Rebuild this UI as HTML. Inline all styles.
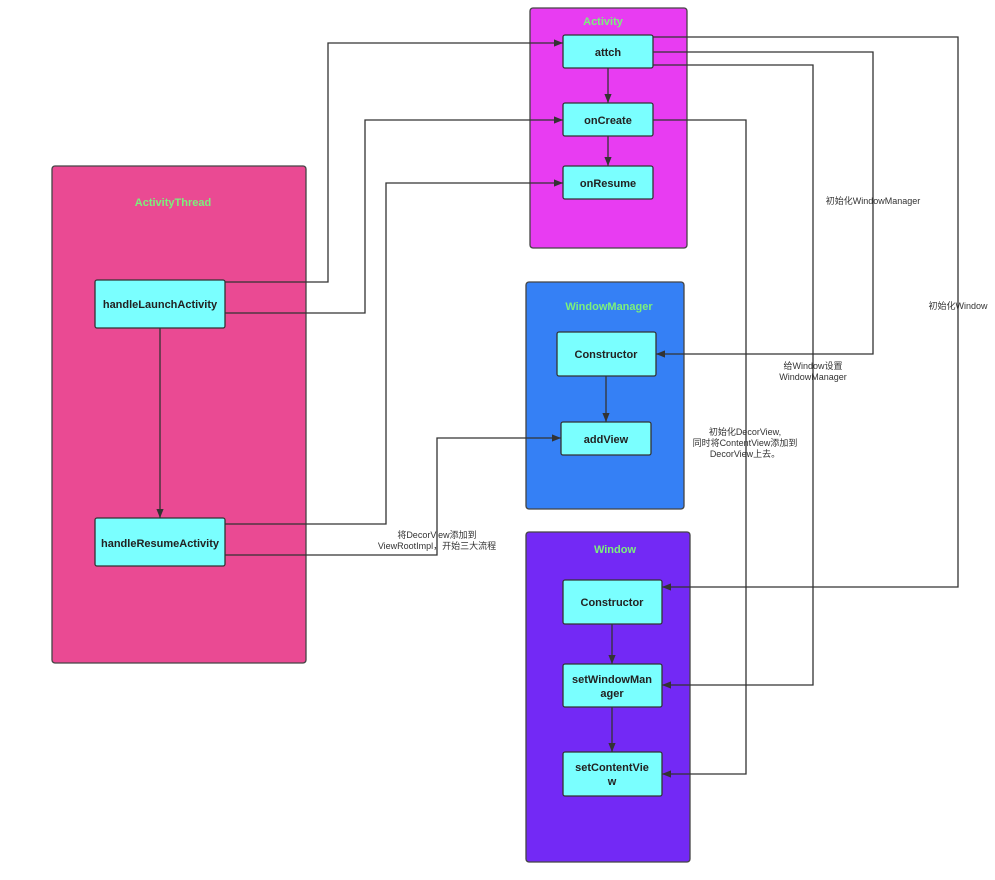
<!DOCTYPE html>
<html><head><meta charset="utf-8"><style>
html,body{margin:0;padding:0;background:#fff;}
svg{display:block;}
.n{fill:#7AFFFF;stroke:#333;stroke-width:1.3;}
.t{font-family:"Liberation Sans","Noto Sans CJK SC",sans-serif;font-weight:bold;font-size:11px;fill:#222;text-anchor:middle;}
.h{font-family:"Liberation Sans","Noto Sans CJK SC",sans-serif;font-weight:bold;font-size:11px;fill:#7CF07C;text-anchor:middle;}
.l{font-family:"Liberation Sans","Noto Sans CJK SC",sans-serif;font-size:9px;fill:#333;text-anchor:middle;}
.c{fill:none;stroke:#333;stroke-width:1.3;}
</style></head><body>
<svg width="995" height="880" viewBox="0 0 995 880" xmlns="http://www.w3.org/2000/svg">
<defs><marker id="a" viewBox="0 0 10 10" refX="10" refY="5" markerWidth="9" markerHeight="9" markerUnits="userSpaceOnUse" orient="auto"><path d="M0,1 L10,5 L0,9 z" fill="#333"/></marker></defs>
<!-- containers -->
<rect x="52" y="166" width="254" height="497" rx="3" fill="#EA4A93" stroke="#444" stroke-width="1.3"/>
<text class="h" x="173" y="206">ActivityThread</text>
<rect x="530" y="8" width="157" height="240" rx="3" fill="#E83CF2" stroke="#444" stroke-width="1.3"/>
<text class="h" x="603" y="25">Activity</text>
<rect x="526" y="282" width="158" height="227" rx="3" fill="#3580F5" stroke="#444" stroke-width="1.3"/>
<text class="h" x="609" y="310">WindowManager</text>
<rect x="526" y="532" width="164" height="330" rx="3" fill="#7329F5" stroke="#444" stroke-width="1.3"/>
<text class="h" x="615" y="553">Window</text>
<!-- connectors -->
<path class="c" d="M225,282 H328 V43 H563" marker-end="url(#a)"/>
<path class="c" d="M225,313 H365 V120 H563" marker-end="url(#a)"/>
<path class="c" d="M225,524 H386 V183 H563" marker-end="url(#a)"/>
<path class="c" d="M225,555 H437 V438 H561" marker-end="url(#a)"/>
<path class="c" d="M160,328 V518" marker-end="url(#a)"/>
<path class="c" d="M608,68 V103" marker-end="url(#a)"/>
<path class="c" d="M608,136 V166" marker-end="url(#a)"/>
<path class="c" d="M653,37 H958 V587 H662" marker-end="url(#a)"/>
<path class="c" d="M653,52 H873 V354 H656" marker-end="url(#a)"/>
<path class="c" d="M653,65 H813 V685 H662" marker-end="url(#a)"/>
<path class="c" d="M653,120 H746 V774 H662" marker-end="url(#a)"/>
<path class="c" d="M606,376 V422" marker-end="url(#a)"/>
<path class="c" d="M612,624 V664" marker-end="url(#a)"/>
<path class="c" d="M612,707 V752" marker-end="url(#a)"/>
<!-- nodes -->
<rect class="n" x="95" y="280" width="130" height="48" rx="2"/>
<text class="t" x="160" y="308">handleLaunchActivity</text>
<rect class="n" x="95" y="518" width="130" height="48" rx="2"/>
<text class="t" x="160" y="547">handleResumeActivity</text>
<rect class="n" x="563" y="35" width="90" height="33" rx="2"/>
<text class="t" x="608" y="56">attch</text>
<rect class="n" x="563" y="103" width="90" height="33" rx="2"/>
<text class="t" x="608" y="124">onCreate</text>
<rect class="n" x="563" y="166" width="90" height="33" rx="2"/>
<text class="t" x="608" y="187">onResume</text>
<rect class="n" x="557" y="332" width="99" height="44" rx="2"/>
<text class="t" x="606" y="358">Constructor</text>
<rect class="n" x="561" y="422" width="90" height="33" rx="2"/>
<text class="t" x="606" y="443">addView</text>
<rect class="n" x="563" y="580" width="99" height="44" rx="2"/>
<text class="t" x="612" y="606">Constructor</text>
<rect class="n" x="563" y="664" width="99" height="43" rx="2"/>
<text class="t" x="612" y="683">setWindowMan</text>
<text class="t" x="612" y="697">ager</text>
<rect class="n" x="563" y="752" width="99" height="44" rx="2"/>
<text class="t" x="612" y="771">setContentVie</text>
<text class="t" x="612" y="785">w</text>
<!-- labels -->
<text class="l" x="873" y="204">初始化WindowManager</text>
<text class="l" x="958" y="309">初始化Window</text>
<text class="l" x="813" y="369">给Window设置</text>
<text class="l" x="813" y="380">WindowManager</text>
<text class="l" x="745" y="435">初始化DecorView,</text>
<text class="l" x="745" y="446">同时将ContentView添加到</text>
<text class="l" x="745" y="457">DecorView上去。</text>
<text class="l" x="437" y="538">将DecorView添加到</text>
<text class="l" x="437" y="549">ViewRootImpl，开始三大流程</text>
</svg>
</body></html>
